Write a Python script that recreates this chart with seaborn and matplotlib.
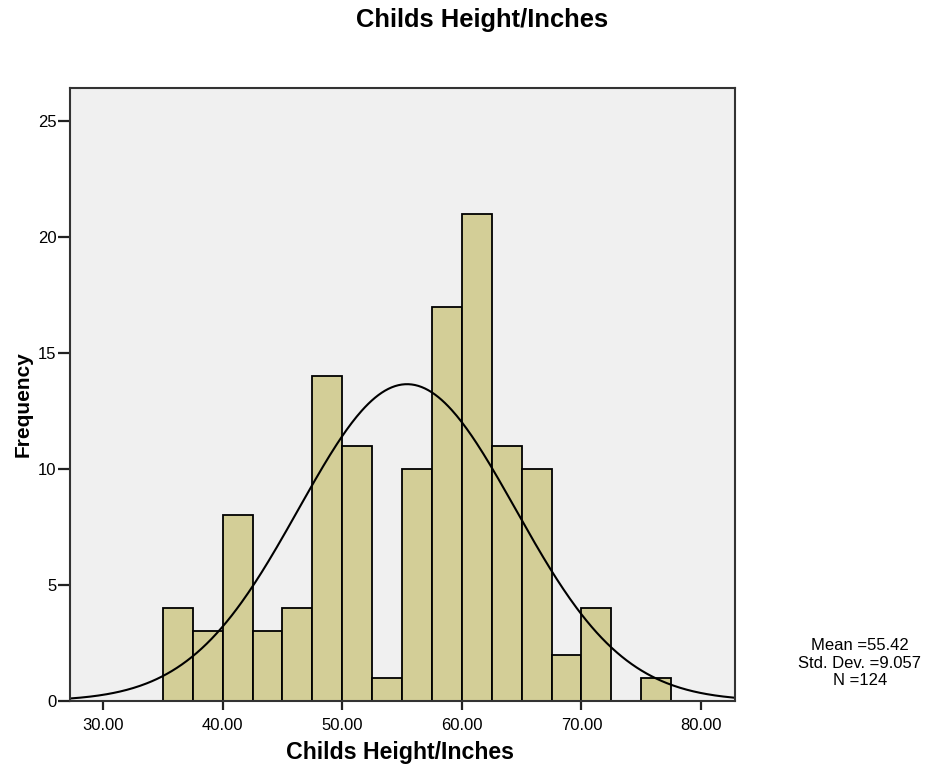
import numpy as np
import pandas as pd
import matplotlib
matplotlib.use("Agg")
import matplotlib.pyplot as plt
import seaborn as sns

# Data
bin_edges = [35.0, 37.5, 40.0, 42.5, 45.0, 47.5, 50.0, 52.5, 55.0, 57.5,
             60.0, 62.5, 65.0, 67.5, 70.0, 72.5, 75.0, 77.5]
counts = [4, 3, 8, 3, 4, 14, 11, 1, 10, 17, 21, 11, 10, 2, 4, 0, 1]
mean_val = 55.42
std_val = 9.057
n_val = 124
x_ticks = [30, 40, 50, 60, 70, 80]
y_ticks = [0, 5, 10, 15, 20, 25]

sns.set_style("white")
plt.rcParams['font.family'] = ['Liberation Sans', 'DejaVu Sans']
plt.rcParams['text.color'] = 'black'

fig = plt.figure(figsize=(9.28, 7.70), dpi=100)
ax = fig.add_axes([70/928, 1-701/770, (735-70)/928, (701-88)/770])
ax.set_facecolor('#F0F0F0')

centers = [(a + b) / 2 for a, b in zip(bin_edges[:-1], bin_edges[1:])]
df = pd.DataFrame({'x': centers, 'w': counts})
sns.histplot(data=df, x='x', weights='w', bins=bin_edges, ax=ax,
             color='#D3CE97', edgecolor='black', linewidth=1.3, alpha=1)

xmin, xmax = 27.24, 82.84
xs = np.linspace(xmin, xmax, 400)
binw = bin_edges[1] - bin_edges[0]
ys = n_val * binw / (std_val * np.sqrt(2 * np.pi)) * np.exp(-0.5 * ((xs - mean_val) / std_val) ** 2)
sns.lineplot(x=xs, y=ys, ax=ax, color='black', linewidth=1.5)

ax.set_xlim(xmin, xmax)
ax.set_ylim(0, 26.42)
ax.set_xticks(x_ticks)
ax.set_xticklabels([f"{t:.2f}" for t in x_ticks], fontsize=12, color='black')
ax.set_yticks(y_ticks)
ax.set_yticklabels([str(t) for t in y_ticks], fontsize=12, color='black')
ax.tick_params(axis='x', bottom=True, direction='out', length=6.5, width=1.6,
               color='#222222', pad=6)
ax.tick_params(axis='y', left=True, direction='out', length=8.6, width=1.6,
               color='#222222', pad=1)
for s in ax.spines.values():
    s.set_color('#333333')
    s.set_linewidth(1.5)

ax.set_xlabel('')
ax.set_ylabel('')
fig.text(400/928, 1 - 753/770, 'Childs Height/Inches', ha='center', va='center',
         fontsize=16.7, fontweight='bold')
fig.text(23/928, 1 - 404/770, 'Frequency', ha='center', va='center', rotation=90,
         fontsize=15, fontweight='bold')
fig.text(482/928, 1 - 20/770, 'Childs Height/Inches', ha='center', va='center',
         fontsize=18.4, fontweight='bold')
fig.text(860/928, 1 - 663/770, f"Mean ={mean_val}\nStd. Dev. ={std_val}\nN ={n_val}",
         ha='center', va='center', fontsize=12, linespacing=1.2)

fig.savefig('out.png', dpi=100)
